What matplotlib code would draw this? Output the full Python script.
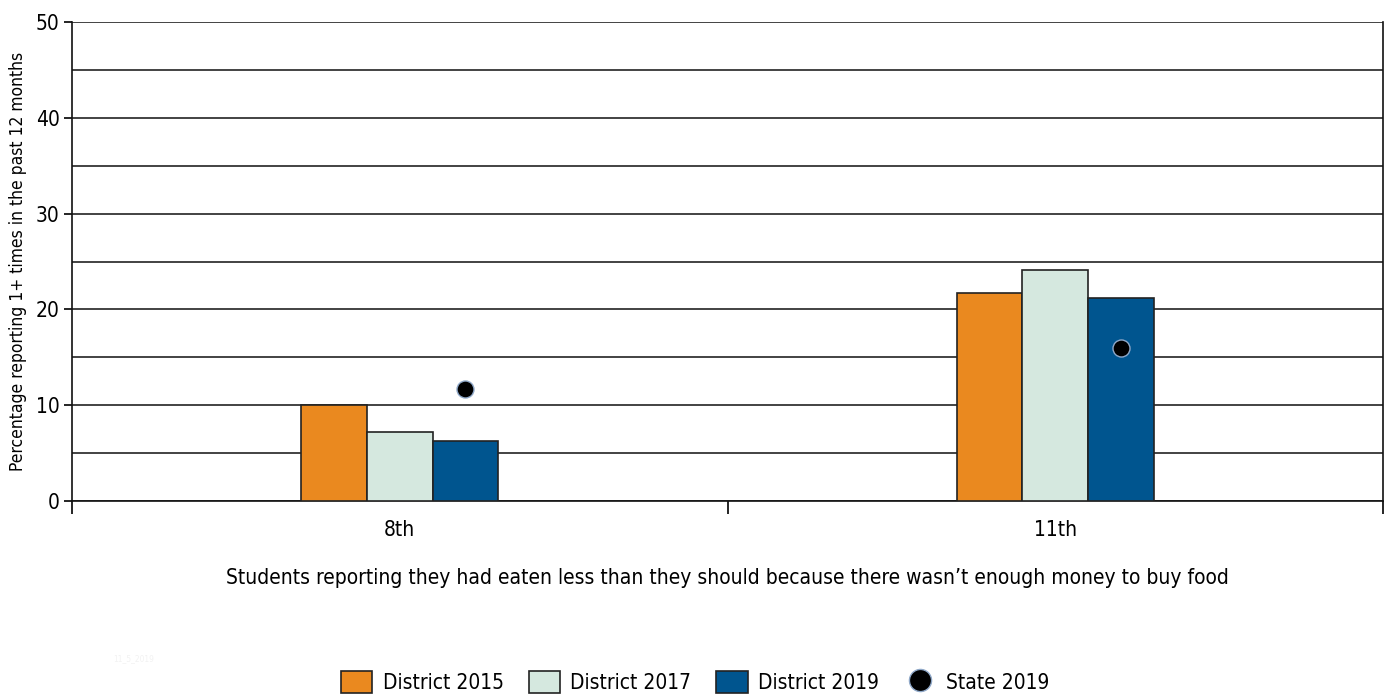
import matplotlib.pyplot as plt
from matplotlib.ticker import MultipleLocator

plt.rcParams['font.family'] = ['Liberation Sans Narrow', 'DejaVu Sans']
plt.rcParams['font.stretch'] = 'condensed'

# data
grades = ['8th', '11th']
district_2015 = [10.0, 21.7]
district_2017 = [7.2, 24.1]
district_2019 = [6.3, 21.2]
state_2019 = [11.7, 16.0]

colors = ['#EA891F', '#D5E8DF', '#00558F']
labels = ['District 2015', 'District 2017', 'District 2019']

fig = plt.figure(figsize=(13.88, 6.94), dpi=100)
ax = fig.add_axes([72 / 1388, 1 - 501 / 694, 1311 / 1388, 479 / 694])

bar_width = 0.1
x = list(range(len(grades)))
handles = []
for i, (vals, c, lab) in enumerate(zip([district_2015, district_2017, district_2019], colors, labels)):
    pos = [xi + (i - 1) * bar_width for xi in x]
    b = ax.bar(pos, vals, width=bar_width, color=c, edgecolor='#222222', linewidth=1.2,
               label=lab, zorder=3)
    handles.append(b)

sc = ax.scatter([xi + bar_width for xi in x], state_2019, s=150, color='black',
                edgecolor='#8fa8c8', linewidth=1.0, zorder=4, label='State 2019')
handles.append(sc)

ax.set_xlim(-0.5, 1.5)
ax.set_ylim(0, 50)

# y axis
ax.yaxis.set_major_locator(MultipleLocator(10))
ax.yaxis.set_minor_locator(MultipleLocator(5))
ax.grid(axis='y', which='both', color='#222222', linewidth=1.2, zorder=0)
ax.tick_params(axis='y', which='major', direction='out', length=6, width=1.2,
               labelsize=15, pad=3)
ax.tick_params(axis='y', which='minor', length=0)
ax.set_ylabel('Percentage reporting 1+ times in the past 12 months', fontsize=12.5, labelpad=6)

# x axis: boundary ticks, labels at centres
ax.set_xticks([-0.5, 0.5, 1.5])
ax.set_xticklabels(['', '', ''])
ax.set_xticks(x, minor=True)
ax.set_xticklabels(grades, minor=True)
ax.tick_params(axis='x', which='major', direction='out', length=9, width=1.2)
ax.tick_params(axis='x', which='minor', length=0, labelsize=15, pad=14)
ax.set_xlabel("Students reporting they had eaten less than they should because there wasn\u2019t enough money to buy food",
              fontsize=15, labelpad=20)

for s in ax.spines.values():
    s.set_linewidth(1.2)
    s.set_color('#111111')
ax.spines['top'].set_visible(False)
ax.spines['right'].set_bounds(0, 50)

fig.text(113 / 1388, 1 - 661 / 694, '11_5_2019', fontsize=6, color='#f2f2f2')

fig.legend(handles, labels + ['State 2019'], loc='center', bbox_to_anchor=(695 / 1388, 1 - 682 / 694),
           ncol=4, frameon=False, fontsize=15, handlelength=1.5, handleheight=1.3,
           columnspacing=1.2, handletextpad=0.5, scatterpoints=1, markerscale=1.3)

fig.savefig('out.png', dpi=100)
